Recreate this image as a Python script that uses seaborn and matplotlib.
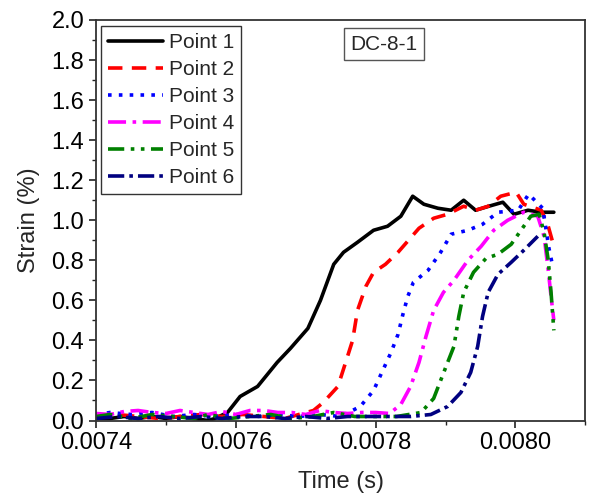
import matplotlib
matplotlib.use("Agg")
import matplotlib.pyplot as plt
import seaborn as sns
from matplotlib.ticker import MultipleLocator, FormatStrFormatter

# ---- data ----
t1 = [0.00740, 0.00742, 0.00744, 0.00746, 0.00748, 0.00750, 0.00752, 0.00754, 0.00756, 0.00757,
      0.007588, 0.007606, 0.007631, 0.007659, 0.007678, 0.007703, 0.007721, 0.007740, 0.007754,
      0.007774, 0.007797, 0.007817, 0.007836, 0.007853, 0.007869, 0.007889, 0.007908, 0.007926,
      0.007943, 0.007962, 0.007982, 0.007998, 0.008018, 0.008037, 0.008055]
s1 = [0.01, 0.01, 0.02, 0.01, 0.02, 0.01, 0.02, 0.01, 0.00, 0.01,
      0.04, 0.12, 0.17, 0.29, 0.36, 0.46, 0.60, 0.78, 0.84,
      0.89, 0.95, 0.97, 1.02, 1.12, 1.08, 1.06, 1.05, 1.10,
      1.05, 1.07, 1.09, 1.03, 1.05, 1.04, 1.04]

t2 = [0.00740, 0.00743, 0.00746, 0.00749, 0.00752, 0.00755, 0.00758, 0.00761, 0.00764, 0.00767,
      0.00769, 0.007711, 0.007725, 0.007746, 0.007757, 0.007767, 0.007774, 0.007786, 0.007797,
      0.007814, 0.007832, 0.007847, 0.007862, 0.007883, 0.007903, 0.007926, 0.007943, 0.007961,
      0.007979, 0.008001, 0.008012, 0.008037, 0.008047, 0.008055]
s2 = [0.02, 0.03, 0.02, 0.01, 0.02, 0.03, 0.02, 0.03, 0.02, 0.01,
      0.03, 0.05, 0.09, 0.17, 0.29, 0.40, 0.55, 0.67, 0.74,
      0.78, 0.84, 0.90, 0.96, 1.01, 1.03, 1.07, 1.05, 1.07,
      1.12, 1.14, 1.08, 1.05, 0.97, 0.87]

t3 = [0.00740, 0.00742, 0.00745, 0.00748, 0.00751, 0.00754, 0.00757, 0.00760, 0.00763, 0.00766,
      0.00769, 0.00772, 0.00775, 0.007778, 0.007797, 0.007822, 0.007832, 0.007839, 0.007846,
      0.007854, 0.007875, 0.007893, 0.007908, 0.007932, 0.007953, 0.007975, 0.008004, 0.008019,
      0.008039, 0.008044, 0.008048, 0.008054]
s3 = [0.03, 0.04, 0.03, 0.04, 0.02, 0.03, 0.02, 0.03, 0.02, 0.03,
      0.02, 0.03, 0.02, 0.07, 0.15, 0.34, 0.43, 0.53, 0.62,
      0.69, 0.75, 0.84, 0.93, 0.95, 0.98, 1.04, 1.05, 1.13,
      1.06, 0.95, 0.86, 0.76]

t4 = [0.00740, 0.00742, 0.00744, 0.00746, 0.00748, 0.00750, 0.00752, 0.00754, 0.00756, 0.00758,
      0.00760, 0.00762, 0.00764, 0.00766, 0.00768, 0.00770, 0.00772, 0.00774, 0.00776, 0.00778,
      0.00780, 0.00782, 0.007836, 0.00785, 0.007862, 0.007872, 0.007883, 0.007897, 0.007912,
      0.007932, 0.007951, 0.007969, 0.007989, 0.008012, 0.008032, 0.008041, 0.008047, 0.008051,
      0.008055]
s4 = [0.035, 0.03, 0.045, 0.05, 0.04, 0.035, 0.05, 0.04, 0.03, 0.045,
      0.03, 0.05, 0.05, 0.04, 0.04, 0.03, 0.05, 0.04, 0.035, 0.04,
      0.04, 0.035, 0.08, 0.17, 0.29, 0.42, 0.55, 0.64, 0.70,
      0.80, 0.87, 0.95, 1.00, 1.04, 1.02, 0.92, 0.75, 0.62,
      0.50]

t5 = [0.00740, 0.00742, 0.00745, 0.00748, 0.00751, 0.00754, 0.00756, 0.00759, 0.00762, 0.00765,
      0.00768, 0.00771, 0.00774, 0.00777, 0.00780, 0.00783, 0.007865, 0.007883, 0.007903,
      0.007912, 0.007919, 0.007926, 0.007940, 0.007958, 0.007975, 0.007994, 0.008012, 0.008022,
      0.008034, 0.008041, 0.008047, 0.008051, 0.008055]
s5 = [0.02, 0.03, 0.01, 0.03, 0.02, 0.01, 0.03, 0.01, 0.02, 0.03,
      0.01, 0.02, 0.04, 0.02, 0.02, 0.02, 0.04, 0.11, 0.29,
      0.37, 0.52, 0.64, 0.74, 0.81, 0.83, 0.88, 0.97, 1.02,
      1.03, 0.94, 0.80, 0.64, 0.45]

t6 = [0.00740, 0.00743, 0.00746, 0.00749, 0.00752, 0.00755, 0.00758, 0.00761, 0.00764, 0.00767,
      0.00770, 0.00773, 0.00776, 0.00779, 0.00782, 0.00785, 0.007879, 0.007903, 0.007922,
      0.007936, 0.007946, 0.007953, 0.007961, 0.007975, 0.007994, 0.008012, 0.008032]
s6 = [0.01, 0.02, 0.01, 0.02, 0.01, 0.02, 0.01, 0.02, 0.02, 0.01,
      0.02, 0.01, 0.02, 0.02, 0.02, 0.02, 0.03, 0.07, 0.14,
      0.24, 0.37, 0.52, 0.64, 0.73, 0.79, 0.85, 0.92]

labels = ["Point 1", "Point 2", "Point 3", "Point 4", "Point 5", "Point 6"]
colors = ["#000000", "#FF0000", "#0000FF", "#FF00FF", "#008000", "#000080"]
styles = ["-", (0, (4, 2.6)), (0, (1, 2)), (0, (5, 1.8, 1, 1.8)), (0, (4.5, 1.8, 1, 1.8, 1, 1.8)), (0, (4.5, 1.4, 1, 1.4))]
series = [(t1, s1), (t2, s2), (t3, s3), (t4, s4), (t5, s5), (t6, s6)]

sns.set_theme(style="ticks")
plt.rcParams["font.family"] = ["Liberation Sans", "DejaVu Sans"]

fig = plt.figure(figsize=(5.9, 5.0), dpi=100)
ax = fig.add_axes([0.163, 0.159, 0.829, 0.801])

for (t, s), lab, c, ls in zip(series, labels, colors, styles):
    sns.lineplot(x=t, y=s, ax=ax, color=c, label=lab, linestyle=ls, linewidth=2.6, sort=False)

ax.set_xlim(0.0074, 0.0081)
ax.set_ylim(0.0, 2.0)
ax.xaxis.set_major_locator(MultipleLocator(0.0002))
ax.xaxis.set_minor_locator(MultipleLocator(0.0001))
ax.yaxis.set_major_locator(MultipleLocator(0.2))
ax.yaxis.set_minor_locator(MultipleLocator(0.1))
ax.xaxis.set_major_formatter(FormatStrFormatter("%.4f"))
ax.yaxis.set_major_formatter(FormatStrFormatter("%.1f"))
ax.tick_params(axis="both", which="major", direction="out", length=5, width=1.2, labelsize=17, colors="#222222", labelcolor="black")
ax.tick_params(axis="both", which="minor", direction="out", length=3, width=1.0, colors="#222222")
ax.tick_params(top=False, right=False, which="both")
for sp in ax.spines.values():
    sp.set_visible(True)
    sp.set_linewidth(1.3)
    sp.set_color("#333333")

ax.set_xlabel("Time (s)", fontsize=17, labelpad=12)
ax.set_ylabel("Strain (%)", fontsize=17, labelpad=8)

leg = ax.legend(loc="upper left", bbox_to_anchor=(0.01, 0.985), fontsize=15, frameon=True,
                fancybox=False, handlelength=2.6, labelspacing=0.38, borderpad=0.35,
                handletextpad=0.3, borderaxespad=0.0)
leg.get_frame().set_edgecolor("#333333")
leg.get_frame().set_linewidth(1.0)
leg.get_frame().set_alpha(1.0)

ax.text(0.588, 0.94, "DC-8-1", transform=ax.transAxes, ha="center", va="center", fontsize=15,
        bbox=dict(boxstyle="square,pad=0.3", facecolor="white", edgecolor="#555555", linewidth=1.0))

fig.savefig("out.png", dpi=100)
